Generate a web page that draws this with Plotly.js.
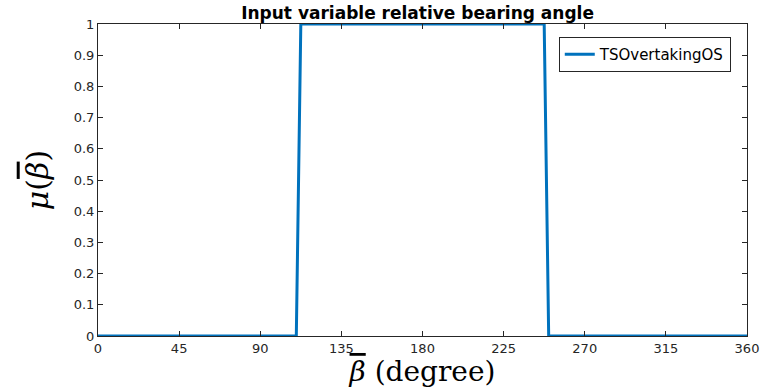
<!DOCTYPE html>
<html><head><meta charset="utf-8">
<script src="https://cdn.plot.ly/plotly-3.0.1.min.js"></script>
<style>body{margin:0;background:#fff}#c{width:762px;height:388px}</style>
</head><body><div id="c"></div>
<script>
const xVals = [0, 110, 112.5, 247.5, 250, 360];
const yVals = [0, 0, 1, 1, 0, 0];
const seriesName = 'TSOvertakingOS';
const xTicks = [0, 45, 90, 135, 180, 225, 270, 315, 360];
const yTicks = [0, 0.1, 0.2, 0.3, 0.4, 0.5, 0.6, 0.7, 0.8, 0.9, 1];

const data = [{
  x: xVals, y: yVals, type: 'scatter', mode: 'lines', name: seriesName,
  line: {color: '#0072BD', width: 3}
}];
const sans = 'DejaVu Sans, Verdana, sans-serif';
const serif = 'DejaVu Serif, serif';
const beta = '<span style="text-decoration:overline"><i>β</i></span>';
const axisCommon = {
  showgrid: false, zeroline: false, showline: true, mirror: 'ticks',
  linecolor: '#262626', linewidth: 1, ticks: 'inside', ticklen: 5, tickcolor: '#262626',
  tickfont: {family: sans, size: 13, color: '#262626'}
};
const layout = {
  width: 762, height: 388,
  margin: {l: 98, r: 15, t: 24, b: 52},
  paper_bgcolor: '#fff', plot_bgcolor: '#fff',
  title: {text: '<b>Input variable relative bearing angle</b>', x: 0.548, xanchor: 'center', y: 0.966, yanchor: 'middle',
    font: {family: sans, size: 17, color: '#000'}},
  xaxis: Object.assign({}, axisCommon, {range: [0, 360], tickvals: xTicks, ticktext: xTicks.map(String),
    title: {text: beta + ' (degree)', standoff: 6, font: {family: serif, size: 28, color: '#000'}}}),
  yaxis: Object.assign({}, axisCommon, {range: [0, 1], tickvals: yTicks, ticktext: yTicks.map(String),
    title: {text: '<i>μ</i>(' + beta + ')', standoff: 16, font: {family: serif, size: 30, color: '#000'}}}),
  showlegend: true,
  legend: {x: 0.975, xanchor: 'right', y: 0.958, yanchor: 'top', bgcolor: '#fff', bordercolor: '#262626', borderwidth: 1,
    font: {family: sans, size: 15, color: '#000'}}
};
Plotly.newPlot('c', data, layout, {displayModeBar: false, staticPlot: true});
</script></body></html>
